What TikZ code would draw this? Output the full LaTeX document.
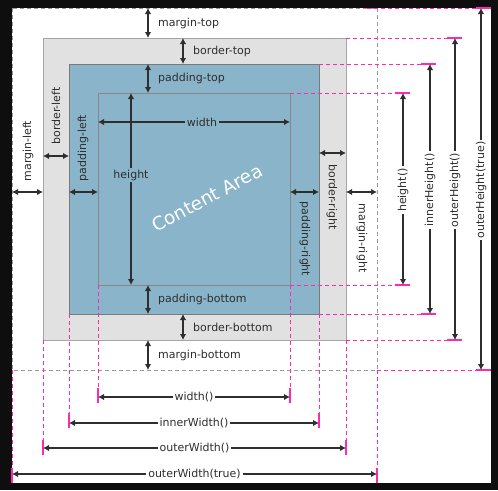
\documentclass[tikz,border=0pt]{standalone}
\usepackage{fontspec}
\setmainfont{DejaVu Sans}
\usetikzlibrary{arrows.meta}

\definecolor{framedark}{HTML}{0E0E0E}
\definecolor{bordergray}{HTML}{E1E1E1}
\definecolor{borderline}{HTML}{A6A6A6}
\definecolor{paddingblue}{HTML}{8AB4C9}
\definecolor{paddingline}{HTML}{7A7A7A}
\definecolor{guidepink}{HTML}{FF2AB4}
\definecolor{arrowdark}{HTML}{2E2E2E}

\tikzset{
  dim/.style={arrowdark, line width=1.9pt,
    {Latex[length=6pt,width=6.5pt]}-{Latex[length=6pt,width=6.5pt]}},
  guide/.style={guidepink, line width=0.8pt, dash pattern=on 4pt off 3pt},
  guidetip/.style={guidepink, line width=1.2pt},
  marginline/.style={gray!80, line width=0.8pt, dash pattern=on 4pt off 3pt},
  lbl/.style={text=arrowdark, font=\fontsize{11}{13}\selectfont, inner sep=2pt},
}

\begin{document}
\begin{tikzpicture}[x=1pt,y=-1pt]
                    \coordinate (F1) at (0,0);
                    \coordinate (F2) at (498,490);
                    \useasboundingbox (F1) rectangle (F2);
                    \fill[framedark] (F1) rectangle (F2);
                    \coordinate (W1) at (12,8);
                    \coordinate (W2) at (491,483);
                    \fill[white] (W1) rectangle (W2);

                    \coordinate (M1) at (12,8);
                    \coordinate (M4) at (377,370);
                    \coordinate (B1) at (43,38);
                    \coordinate (B4) at (346,340);
                    \coordinate (P1) at (69,64);
                    \coordinate (P4) at (319,314);
                    \coordinate (C1) at (98,93);
                    \coordinate (C4) at (290,285);

                    \fill[bordergray] (B1) rectangle (B4);
                    \draw[borderline, line width=0.9pt] (B1) rectangle (B4);
                    \fill[paddingblue] (P1) rectangle (P4);
                    \draw[paddingline, line width=0.9pt] (P1) rectangle (P4);
                    \draw[paddingline!90, line width=0.9pt] (C1) rectangle (C4);
                    \draw[marginline] (M1) rectangle (M4);

                    \coordinate (GC1) at (290,93);
                    \coordinate (GC2) at (410,93);
                    \coordinate (GC3) at (290,285);
                    \coordinate (GC4) at (410,285);
                    \coordinate (GC5) at (98,285);
                    \coordinate (GC6) at (98,403);
                    \coordinate (GC7) at (290,285);
                    \coordinate (GC8) at (290,403);
                    \draw[guide] (GC1) -- (GC2);
                    \draw[guide] (GC3) -- (GC4);
                    \draw[guide] (GC5) -- (GC6);
                    \draw[guide] (GC7) -- (GC8);
                    \draw[guidetip] ([xshift=-15pt]GC2) -- (GC2);
                    \draw[guidetip] ([xshift=-15pt]GC4) -- (GC4);
                    \draw[guidetip] ([yshift=15pt]GC6) -- (GC6);
                    \draw[guidetip] ([yshift=15pt]GC8) -- (GC8);

                    \coordinate (GP1) at (319,64);
                    \coordinate (GP2) at (436,64);
                    \coordinate (GP3) at (319,314);
                    \coordinate (GP4) at (436,314);
                    \coordinate (GP5) at (69,314);
                    \coordinate (GP6) at (69,428);
                    \coordinate (GP7) at (319,314);
                    \coordinate (GP8) at (319,428);
                    \draw[guide] (GP1) -- (GP2);
                    \draw[guide] (GP3) -- (GP4);
                    \draw[guide] (GP5) -- (GP6);
                    \draw[guide] (GP7) -- (GP8);
                    \draw[guidetip] ([xshift=-15pt]GP2) -- (GP2);
                    \draw[guidetip] ([xshift=-15pt]GP4) -- (GP4);
                    \draw[guidetip] ([yshift=15pt]GP6) -- (GP6);
                    \draw[guidetip] ([yshift=15pt]GP8) -- (GP8);

                    \coordinate (GB1) at (346,38);
                    \coordinate (GB2) at (462,38);
                    \coordinate (GB3) at (346,340);
                    \coordinate (GB4) at (462,340);
                    \coordinate (GB5) at (43,340);
                    \coordinate (GB6) at (43,455);
                    \coordinate (GB7) at (346,340);
                    \coordinate (GB8) at (346,455);
                    \draw[guide] (GB1) -- (GB2);
                    \draw[guide] (GB3) -- (GB4);
                    \draw[guide] (GB5) -- (GB6);
                    \draw[guide] (GB7) -- (GB8);
                    \draw[guidetip] ([xshift=-15pt]GB2) -- (GB2);
                    \draw[guidetip] ([xshift=-15pt]GB4) -- (GB4);
                    \draw[guidetip] ([yshift=15pt]GB6) -- (GB6);
                    \draw[guidetip] ([yshift=15pt]GB8) -- (GB8);

                    \coordinate (GM1) at (367,8);
                    \coordinate (GM2) at (491,8);
                    \coordinate (GM3) at (377,370);
                    \coordinate (GM4) at (491,370);
                    \coordinate (GM5) at (12,370);
                    \coordinate (GM6) at (12,483);
                    \coordinate (GM7) at (377,370);
                    \coordinate (GM8) at (377,483);
                    \draw[guide] (GM1) -- (GM2);
                    \draw[guide] (GM3) -- (GM4);
                    \draw[guide] (GM5) -- (GM6);
                    \draw[guide] (GM7) -- (GM8);
                    \draw[guidetip] ([xshift=-15pt]GM2) -- (GM2);
                    \draw[guidetip] ([xshift=-15pt]GM4) -- (GM4);
                    \draw[guidetip] ([yshift=15pt]GM6) -- (GM6);
                    \draw[guidetip] ([yshift=15pt]GM8) -- (GM8);

                    \coordinate (MT1) at (148,8);
                    \coordinate (MT2) at (148,38);
                    \coordinate (BT1) at (183,38);
                    \coordinate (BT2) at (183,64);
                    \coordinate (PT1) at (148,64);
                    \coordinate (PT2) at (148,93);
                    \coordinate (PB1) at (148,285);
                    \coordinate (PB2) at (148,314);
                    \coordinate (BB1) at (183,314);
                    \coordinate (BB2) at (183,340);
                    \coordinate (MB1) at (148,340);
                    \coordinate (MB2) at (148,370);
                    \draw[dim] (MT1) -- (MT2);
                    \draw[dim] (BT1) -- (BT2);
                    \draw[dim] (PT1) -- (PT2);
                    \draw[dim] (PB1) -- (PB2);
                    \draw[dim] (BB1) -- (BB2);
                    \draw[dim] (MB1) -- (MB2);
                    \node[lbl, anchor=west] (mt) at (156,23) {margin-top};
                    \node[lbl, anchor=west] (bt) at (191,51) {border-top};
                    \node[lbl, anchor=west] (pt) at (156,78) {padding-top};
                    \node[lbl, anchor=west] (pb) at (156,299) {padding-bottom};
                    \node[lbl, anchor=west] (bb) at (191,327) {border-bottom};
                    \node[lbl, anchor=west] (mb) at (156,355) {margin-bottom};

                    \coordinate (ML1) at (12,192);
                    \coordinate (ML2) at (43,192);
                    \coordinate (BL1) at (43,156);
                    \coordinate (BL2) at (69,156);
                    \coordinate (PL1) at (69,192);
                    \coordinate (PL2) at (98,192);
                    \coordinate (PR1) at (290,192);
                    \coordinate (PR2) at (319,192);
                    \coordinate (BR1) at (319,153);
                    \coordinate (BR2) at (346,153);
                    \coordinate (MR1) at (346,192);
                    \coordinate (MR2) at (377,192);
                    \draw[dim] (ML1) -- (ML2);
                    \draw[dim] (BL1) -- (BL2);
                    \draw[dim] (PL1) -- (PL2);
                    \draw[dim] (PR1) -- (PR2);
                    \draw[dim] (BR1) -- (BR2);
                    \draw[dim] (MR1) -- (MR2);
                    \node[lbl, rotate=90] (ml) at (28,151) {margin-left};
                    \node[lbl, rotate=90] (bl) at (56,116) {border-left};
                    \node[lbl, rotate=90] (pl) at (83,148) {padding-left};
                    \node[lbl, rotate=-90] (pr) at (305,239) {padding-right};
                    \node[lbl, rotate=-90] (br) at (332,197) {border-right};
                    \node[lbl, rotate=-90] (mr) at (362,238) {margin-right};

                    \coordinate (CW1) at (98,122);
                    \coordinate (CW2) at (290,122);
                    \coordinate (CH1) at (131,93);
                    \coordinate (CH2) at (131,285);
                    \draw[dim] (CW1) -- (CW2);
                    \draw[dim] (CH1) -- (CH2);
                    \node[lbl, fill=paddingblue] (cw) at (202,122) {width};
                    \node[lbl, fill=paddingblue] (ch) at (131,175) {height};
                    \node[white, rotate=28, font=\fontsize{18.5}{20}\selectfont] (area) at (207,198) {Content Area};

                    \coordinate (H1) at (403,93);
                    \coordinate (H2) at (403,285);
                    \coordinate (IH1) at (430,64);
                    \coordinate (IH2) at (430,314);
                    \coordinate (OH1) at (455,38);
                    \coordinate (OH2) at (455,340);
                    \coordinate (OT1) at (481,8);
                    \coordinate (OT2) at (481,370);
                    \draw[dim] (H1) -- (H2);
                    \draw[dim] (IH1) -- (IH2);
                    \draw[dim] (OH1) -- (OH2);
                    \draw[dim] (OT1) -- (OT2);
                    \node[lbl, rotate=90, fill=white] (h) at (403,190) {height()};
                    \node[lbl, rotate=90, fill=white] (ih) at (430,190) {innerHeight()};
                    \node[lbl, rotate=90, fill=white] (oh) at (455,190) {outerHeight()};
                    \node[lbl, rotate=90, fill=white] (ot) at (481,190) {outerHeight(true)};

                    \coordinate (WD1) at (98,397);
                    \coordinate (WD2) at (290,397);
                    \coordinate (IW1) at (69,423);
                    \coordinate (IW2) at (319,423);
                    \coordinate (OW1) at (43,448);
                    \coordinate (OW2) at (346,448);
                    \coordinate (OWT1) at (12,474);
                    \coordinate (OWT2) at (377,474);
                    \draw[dim] (WD1) -- (WD2);
                    \draw[dim] (IW1) -- (IW2);
                    \draw[dim] (OW1) -- (OW2);
                    \draw[dim] (OWT1) -- (OWT2);
                    \node[lbl, fill=white] (wd) at (194,397) {width()};
                    \node[lbl, fill=white] (iw) at (194,423) {innerWidth()};
                    \node[lbl, fill=white] (ow) at (194.5,448) {outerWidth()};
                    \node[lbl, fill=white] (owt) at (194.5,474) {outerWidth(true)};
                \end{tikzpicture}
\end{document}
